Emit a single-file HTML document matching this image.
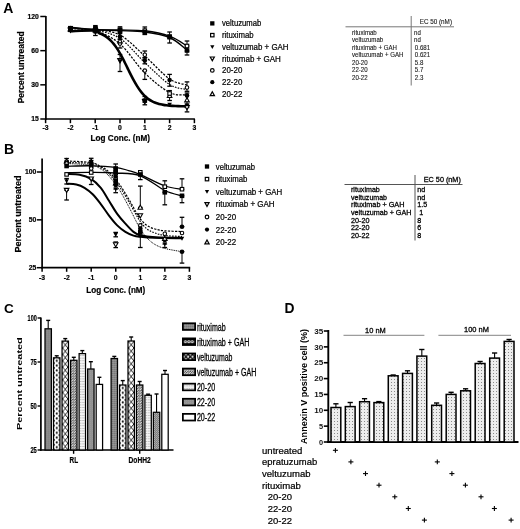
<!DOCTYPE html><html><head><meta charset="utf-8"><style>html,body{margin:0;padding:0;background:#fff;}svg{display:block;filter:blur(0.35px);}text{font-family:"Liberation Sans", sans-serif;}</style></head><body>
<svg width="520" height="529" viewBox="0 0 520 529">
<defs>
<pattern id="pDot" width="3" height="3" patternUnits="userSpaceOnUse"><rect width="3" height="3" fill="#ededed"/><rect x="1" y="1" width="1" height="1" fill="#8a8a8a"/></pattern>
<pattern id="pGray" width="2" height="2" patternUnits="userSpaceOnUse"><rect width="2" height="2" fill="#7a7a7a"/><rect width="1" height="2" fill="#999"/></pattern>
<pattern id="pCheck" width="3.4" height="3.4" patternUnits="userSpaceOnUse"><rect width="3.4" height="3.4" fill="#222"/><circle cx="1.7" cy="1.7" r="1.1" fill="#fff"/></pattern>
<pattern id="pDiam" width="6.8" height="5" patternUnits="userSpaceOnUse"><rect width="6.8" height="5" fill="#111"/><polygon points="3.4,0.6 5.6,2.5 3.4,4.4 1.2,2.5" fill="#fff"/></pattern>
<pattern id="pHatch" width="2.5" height="2.5" patternUnits="userSpaceOnUse"><rect width="2.5" height="2.5" fill="#555"/><rect x="0.5" y="0.5" width="1.2" height="1.2" fill="#ddd"/></pattern>
<pattern id="pLight" width="3" height="3" patternUnits="userSpaceOnUse"><rect width="3" height="3" fill="#f4f4f4"/><rect x="0" y="1" width="2" height="1" fill="#bbb"/></pattern>
<pattern id="pGray2" width="2" height="2" patternUnits="userSpaceOnUse"><rect width="2" height="2" fill="#8a8a8a"/><rect width="1" height="1" fill="#bbb"/></pattern>
<pattern id="pt1" x="45.62" y="329.43" width="2" height="2" patternUnits="userSpaceOnUse"><rect width="2" height="2" fill="#8c8c8c"/><rect width="1" height="1" fill="#6e6e6e"/><rect x="1" y="1" width="1" height="1" fill="#9c9c9c"/></pattern>
<pattern id="pt2" x="54.16" y="358.43" width="5.15" height="4.80" patternUnits="userSpaceOnUse"><rect width="5.15" height="4.80" fill="#000"/><circle cx="2.58" cy="2.40" r="1.90" fill="#111" stroke="#fff" stroke-width="1.6"/></pattern>
<pattern id="pt3" x="62.69" y="341.73" width="5.15" height="6.35" patternUnits="userSpaceOnUse"><rect width="5.15" height="6.35" fill="#fff"/><path d="M0,0 L5.15,6.35 M5.15,0 L0,6.35" stroke="#000" stroke-width="0.85"/></pattern>
<pattern id="pt4" x="71.22" y="360.93" width="2.4" height="2.6" patternUnits="userSpaceOnUse"><rect width="2.4" height="2.6" fill="#4a4a4a"/><path d="M-0.3,2.6 L2.1,0.2" stroke="#f4f4f4" stroke-width="1.0"/></pattern>
<pattern id="pt5" x="79.75" y="354.23" width="2.4" height="2.6" patternUnits="userSpaceOnUse"><rect width="2.4" height="2.6" fill="#f3f3f3"/><rect x="0.2" y="0.9" width="1.6" height="0.8" fill="#b0b0b0"/></pattern>
<pattern id="pt6" x="88.28" y="369.62" width="2" height="2" patternUnits="userSpaceOnUse"><rect width="2" height="2" fill="#7c7c7c"/><rect width="1" height="1" fill="#b4b4b4"/><rect x="1" y="1" width="1" height="1" fill="#a0a0a0"/></pattern>
<pattern id="pt8" x="111.72" y="359.12" width="2" height="2" patternUnits="userSpaceOnUse"><rect width="2" height="2" fill="#8c8c8c"/><rect width="1" height="1" fill="#6e6e6e"/><rect x="1" y="1" width="1" height="1" fill="#9c9c9c"/></pattern>
<pattern id="pt9" x="120.17" y="385.62" width="5.15" height="4.80" patternUnits="userSpaceOnUse"><rect width="5.15" height="4.80" fill="#000"/><circle cx="2.58" cy="2.40" r="1.90" fill="#111" stroke="#fff" stroke-width="1.6"/></pattern>
<pattern id="pt10" x="128.62" y="341.62" width="5.15" height="6.35" patternUnits="userSpaceOnUse"><rect width="5.15" height="6.35" fill="#fff"/><path d="M0,0 L5.15,6.35 M5.15,0 L0,6.35" stroke="#000" stroke-width="0.85"/></pattern>
<pattern id="pt11" x="137.07" y="385.62" width="2.4" height="2.6" patternUnits="userSpaceOnUse"><rect width="2.4" height="2.6" fill="#4a4a4a"/><path d="M-0.3,2.6 L2.1,0.2" stroke="#f4f4f4" stroke-width="1.0"/></pattern>
<pattern id="pt12" x="145.52" y="395.93" width="2.4" height="2.6" patternUnits="userSpaceOnUse"><rect width="2.4" height="2.6" fill="#f3f3f3"/><rect x="0.2" y="0.9" width="1.6" height="0.8" fill="#b0b0b0"/></pattern>
<pattern id="pt13" x="153.97" y="412.93" width="2" height="2" patternUnits="userSpaceOnUse"><rect width="2" height="2" fill="#7c7c7c"/><rect width="1" height="1" fill="#b4b4b4"/><rect x="1" y="1" width="1" height="1" fill="#a0a0a0"/></pattern>
<pattern id="pt15" x="183.75" y="324.15" width="2" height="2" patternUnits="userSpaceOnUse"><rect width="2" height="2" fill="#8c8c8c"/><rect width="1" height="1" fill="#6e6e6e"/><rect x="1" y="1" width="1" height="1" fill="#9c9c9c"/></pattern>
<pattern id="pt16" x="183.75" y="339.25" width="3.40" height="4.90" patternUnits="userSpaceOnUse"><rect width="3.40" height="4.90" fill="#000"/><circle cx="1.70" cy="2.45" r="1.10" fill="#111" stroke="#fff" stroke-width="0.9"/></pattern>
<pattern id="pt17" x="183.75" y="354.35" width="4.40" height="4.90" patternUnits="userSpaceOnUse"><rect width="4.40" height="4.90" fill="#fff"/><path d="M0,0 L4.40,4.90 M4.40,0 L0,4.90" stroke="#000" stroke-width="1.3"/></pattern>
<pattern id="pt18" x="183.75" y="369.45" width="2.4" height="2.6" patternUnits="userSpaceOnUse"><rect width="2.4" height="2.6" fill="#4a4a4a"/><path d="M-0.3,2.6 L2.1,0.2" stroke="#f4f4f4" stroke-width="1.0"/></pattern>
<pattern id="pt19" x="183.75" y="384.55" width="2.4" height="2.6" patternUnits="userSpaceOnUse"><rect width="2.4" height="2.6" fill="#f3f3f3"/><rect x="0.2" y="0.9" width="1.6" height="0.8" fill="#b0b0b0"/></pattern>
<pattern id="pt20" x="183.75" y="399.65" width="2" height="2" patternUnits="userSpaceOnUse"><rect width="2" height="2" fill="#7c7c7c"/><rect width="1" height="1" fill="#b4b4b4"/><rect x="1" y="1" width="1" height="1" fill="#a0a0a0"/></pattern>
</defs>
<text x="3.30" y="12.60" font-size="14.0" font-weight="bold" text-anchor="start" fill="#000" >A</text>
<text x="4.00" y="154.30" font-size="14.0" font-weight="bold" text-anchor="start" fill="#000" >B</text>
<text x="4.00" y="313.00" font-size="13.5" font-weight="bold" text-anchor="start" fill="#000" >C</text>
<text x="284.60" y="313.40" font-size="13.8" font-weight="bold" text-anchor="start" fill="#000" >D</text>
<line x1="45.90" y1="16.00" x2="45.90" y2="119.80" stroke="#000" stroke-width="1.7" />
<line x1="45.10" y1="119.00" x2="194.90" y2="119.00" stroke="#000" stroke-width="1.7" />
<line x1="40.30" y1="16.49" x2="45.90" y2="16.49" stroke="#000" stroke-width="1.5" />
<text x="38.80" y="18.89" font-size="6.8" font-weight="bold" text-anchor="end" fill="#000" stroke="#000" stroke-width="0.2">120</text>
<line x1="40.30" y1="50.66" x2="45.90" y2="50.66" stroke="#000" stroke-width="1.5" />
<text x="38.80" y="53.06" font-size="6.8" font-weight="bold" text-anchor="end" fill="#000" stroke="#000" stroke-width="0.2">60</text>
<line x1="40.30" y1="84.83" x2="45.90" y2="84.83" stroke="#000" stroke-width="1.5" />
<text x="38.80" y="87.23" font-size="6.8" font-weight="bold" text-anchor="end" fill="#000" stroke="#000" stroke-width="0.2">30</text>
<line x1="40.30" y1="119.00" x2="45.90" y2="119.00" stroke="#000" stroke-width="1.5" />
<text x="38.80" y="121.40" font-size="6.8" font-weight="bold" text-anchor="end" fill="#000" stroke="#000" stroke-width="0.2">15</text>
<line x1="45.60" y1="119.00" x2="45.60" y2="123.20" stroke="#000" stroke-width="1.5" />
<text x="45.60" y="129.70" font-size="6.8" font-weight="bold" text-anchor="middle" fill="#000" stroke="#000" stroke-width="0.2">-3</text>
<line x1="70.40" y1="119.00" x2="70.40" y2="123.20" stroke="#000" stroke-width="1.5" />
<text x="70.40" y="129.70" font-size="6.8" font-weight="bold" text-anchor="middle" fill="#000" stroke="#000" stroke-width="0.2">-2</text>
<line x1="95.20" y1="119.00" x2="95.20" y2="123.20" stroke="#000" stroke-width="1.5" />
<text x="95.20" y="129.70" font-size="6.8" font-weight="bold" text-anchor="middle" fill="#000" stroke="#000" stroke-width="0.2">-1</text>
<line x1="120.00" y1="119.00" x2="120.00" y2="123.20" stroke="#000" stroke-width="1.5" />
<text x="120.00" y="129.70" font-size="6.8" font-weight="bold" text-anchor="middle" fill="#000" stroke="#000" stroke-width="0.2">0</text>
<line x1="144.80" y1="119.00" x2="144.80" y2="123.20" stroke="#000" stroke-width="1.5" />
<text x="144.80" y="129.70" font-size="6.8" font-weight="bold" text-anchor="middle" fill="#000" stroke="#000" stroke-width="0.2">1</text>
<line x1="169.60" y1="119.00" x2="169.60" y2="123.20" stroke="#000" stroke-width="1.5" />
<text x="169.60" y="129.70" font-size="6.8" font-weight="bold" text-anchor="middle" fill="#000" stroke="#000" stroke-width="0.2">2</text>
<line x1="194.40" y1="119.00" x2="194.40" y2="123.20" stroke="#000" stroke-width="1.5" />
<text x="194.40" y="129.70" font-size="6.8" font-weight="bold" text-anchor="middle" fill="#000" stroke="#000" stroke-width="0.2">3</text>
<text x="90.50" y="141.40" font-size="8.2" font-weight="bold" text-anchor="start" fill="#000" textLength="59.50" lengthAdjust="spacingAndGlyphs" stroke="#000" stroke-width="0.2">Log Conc. (nM)</text>
<text x="24.20" y="67.30" font-size="8.5" font-weight="bold" text-anchor="middle" fill="#000" textLength="72.00" lengthAdjust="spacingAndGlyphs" transform="rotate(-90 24.20 67.30)" stroke="#000" stroke-width="0.2">Percent untreated</text>
<path d="M70.40,27.20 C74.53,27.57 86.93,28.93 95.20,29.40 C103.47,29.87 111.73,29.77 120.00,30.00 C128.27,30.23 136.53,29.77 144.80,30.80 C153.07,31.83 162.57,33.67 169.60,36.20 C176.63,38.73 184.10,44.37 187.00,46.00" fill="none" stroke="#000" stroke-width="1.4"/>
<path d="M70.40,27.80 C74.53,28.13 86.93,29.33 95.20,29.80 C103.47,30.27 111.73,30.23 120.00,30.60 C128.27,30.97 136.53,30.85 144.80,32.00 C153.07,33.15 162.57,34.50 169.60,37.50 C176.63,40.50 184.10,47.92 187.00,50.00" fill="none" stroke="#000" stroke-width="1.4"/>
<path d="M70.40,31.20 C74.53,31.10 90.43,30.29 95.20,30.60 C99.97,30.91 97.88,32.43 99.00,33.04 C100.12,33.65 100.96,33.79 101.93,34.26 C102.91,34.73 103.89,35.25 104.87,35.86 C105.84,36.47 106.82,37.15 107.80,37.93 C108.78,38.72 109.76,39.59 110.73,40.58 C111.71,41.57 112.69,42.66 113.67,43.88 C114.64,45.09 115.62,46.43 116.60,47.88 C117.58,49.34 118.56,50.92 119.53,52.60 C120.51,54.27 121.49,56.08 122.47,57.93 C123.44,59.79 124.42,61.75 125.40,63.72 C126.38,65.68 127.36,67.72 128.33,69.71 C129.31,71.69 130.29,73.70 131.27,75.61 C132.24,77.52 133.22,79.41 134.20,81.17 C135.18,82.93 136.16,84.61 137.13,86.17 C138.11,87.72 139.09,89.16 140.07,90.48 C141.04,91.80 142.02,93.00 143.00,94.08 C143.98,95.17 144.96,96.13 145.93,97.00 C146.91,97.87 147.89,98.63 148.87,99.31 C149.84,99.99 150.82,100.57 151.80,101.10 C152.78,101.63 153.76,102.07 154.73,102.47 C155.71,102.87 156.69,103.21 157.67,103.51 C158.64,103.81 159.62,104.06 160.60,104.29 C161.58,104.52 162.56,104.70 163.53,104.87 C164.51,105.04 165.49,105.17 166.47,105.30 C167.44,105.42 168.42,105.53 169.40,105.62 C170.38,105.71 171.36,105.78 172.33,105.85 C173.31,105.92 174.29,105.97 175.27,106.02 C176.24,106.07 177.22,106.11 178.20,106.15 C179.18,106.19 180.16,106.22 181.13,106.24 C182.11,106.27 183.09,106.29 184.07,106.31 C185.04,106.33 186.51,106.35 187.00,106.36" fill="none" stroke="#000" stroke-width="2.6"/>
<path d="M70.40,30.50 C74.53,30.42 86.93,29.25 95.20,30.00 C103.47,30.75 111.73,30.67 120.00,35.00 C128.27,39.33 136.53,48.67 144.80,56.00 C153.07,63.33 162.57,74.17 169.60,79.00 C176.63,83.83 184.10,84.00 187.00,85.00" fill="none" stroke="#000" stroke-width="1.25" stroke-dasharray="2.2 1.3"/>
<path d="M70.40,31.00 C74.53,30.92 86.93,29.25 95.20,30.50 C103.47,31.75 111.73,33.17 120.00,38.50 C128.27,43.83 136.53,54.83 144.80,62.50 C153.07,70.17 162.57,80.00 169.60,84.50 C176.63,89.00 184.10,88.67 187.00,89.50" fill="none" stroke="#000" stroke-width="1.2" stroke-dasharray="1.6 1.3"/>
<path d="M70.40,31.20 C74.53,31.17 86.93,28.87 95.20,31.00 C103.47,33.13 111.73,37.00 120.00,44.00 C128.27,51.00 136.53,64.92 144.80,73.00 C153.07,81.08 162.57,88.83 169.60,92.50 C176.63,96.17 184.10,94.58 187.00,95.00" fill="none" stroke="#000" stroke-width="1.25" stroke-dasharray="2.2 1.3"/>
<line x1="95.40" y1="25.60" x2="95.40" y2="35.50" stroke="#000" stroke-width="1.0" />
<line x1="93.10" y1="25.60" x2="97.70" y2="25.60" stroke="#000" stroke-width="1.3" />
<line x1="93.10" y1="35.50" x2="97.70" y2="35.50" stroke="#000" stroke-width="1.3" />
<line x1="120.00" y1="26.80" x2="120.00" y2="32.50" stroke="#000" stroke-width="1.0" />
<line x1="117.70" y1="26.80" x2="122.30" y2="26.80" stroke="#000" stroke-width="1.3" />
<line x1="117.70" y1="32.50" x2="122.30" y2="32.50" stroke="#000" stroke-width="1.3" />
<line x1="120.00" y1="33.50" x2="120.00" y2="39.50" stroke="#000" stroke-width="1.0" />
<line x1="117.70" y1="33.50" x2="122.30" y2="33.50" stroke="#000" stroke-width="1.3" />
<line x1="117.70" y1="39.50" x2="122.30" y2="39.50" stroke="#000" stroke-width="1.3" />
<line x1="120.00" y1="39.00" x2="120.00" y2="48.00" stroke="#000" stroke-width="1.0" />
<line x1="117.70" y1="39.00" x2="122.30" y2="39.00" stroke="#000" stroke-width="1.3" />
<line x1="117.70" y1="48.00" x2="122.30" y2="48.00" stroke="#000" stroke-width="1.3" />
<line x1="120.00" y1="54.50" x2="120.00" y2="71.50" stroke="#000" stroke-width="1.0" />
<line x1="117.70" y1="54.50" x2="122.30" y2="54.50" stroke="#000" stroke-width="1.3" />
<line x1="117.70" y1="71.50" x2="122.30" y2="71.50" stroke="#000" stroke-width="1.3" />
<line x1="144.80" y1="27.00" x2="144.80" y2="34.50" stroke="#000" stroke-width="1.0" />
<line x1="142.50" y1="27.00" x2="147.10" y2="27.00" stroke="#000" stroke-width="1.3" />
<line x1="142.50" y1="34.50" x2="147.10" y2="34.50" stroke="#000" stroke-width="1.3" />
<line x1="144.80" y1="51.00" x2="144.80" y2="58.00" stroke="#000" stroke-width="1.0" />
<line x1="142.50" y1="51.00" x2="147.10" y2="51.00" stroke="#000" stroke-width="1.3" />
<line x1="142.50" y1="58.00" x2="147.10" y2="58.00" stroke="#000" stroke-width="1.3" />
<line x1="144.80" y1="57.50" x2="144.80" y2="63.80" stroke="#000" stroke-width="1.0" />
<line x1="142.50" y1="57.50" x2="147.10" y2="57.50" stroke="#000" stroke-width="1.3" />
<line x1="142.50" y1="63.80" x2="147.10" y2="63.80" stroke="#000" stroke-width="1.3" />
<line x1="144.80" y1="70.60" x2="144.80" y2="79.40" stroke="#000" stroke-width="1.0" />
<line x1="142.50" y1="70.60" x2="147.10" y2="70.60" stroke="#000" stroke-width="1.3" />
<line x1="142.50" y1="79.40" x2="147.10" y2="79.40" stroke="#000" stroke-width="1.3" />
<line x1="144.80" y1="96.50" x2="144.80" y2="104.80" stroke="#000" stroke-width="1.0" />
<line x1="142.50" y1="96.50" x2="147.10" y2="96.50" stroke="#000" stroke-width="1.3" />
<line x1="142.50" y1="104.80" x2="147.10" y2="104.80" stroke="#000" stroke-width="1.3" />
<line x1="169.60" y1="32.00" x2="169.60" y2="43.00" stroke="#000" stroke-width="1.0" />
<line x1="167.30" y1="32.00" x2="171.90" y2="32.00" stroke="#000" stroke-width="1.3" />
<line x1="167.30" y1="43.00" x2="171.90" y2="43.00" stroke="#000" stroke-width="1.3" />
<line x1="169.60" y1="74.40" x2="169.60" y2="86.20" stroke="#000" stroke-width="1.0" />
<line x1="167.30" y1="74.40" x2="171.90" y2="74.40" stroke="#000" stroke-width="1.3" />
<line x1="167.30" y1="86.20" x2="171.90" y2="86.20" stroke="#000" stroke-width="1.3" />
<line x1="169.60" y1="90.60" x2="169.60" y2="100.50" stroke="#000" stroke-width="1.0" />
<line x1="167.30" y1="90.60" x2="171.90" y2="90.60" stroke="#000" stroke-width="1.3" />
<line x1="167.30" y1="100.50" x2="171.90" y2="100.50" stroke="#000" stroke-width="1.3" />
<line x1="187.00" y1="41.00" x2="187.00" y2="51.00" stroke="#000" stroke-width="1.0" />
<line x1="184.70" y1="41.00" x2="189.30" y2="41.00" stroke="#000" stroke-width="1.3" />
<line x1="184.70" y1="51.00" x2="189.30" y2="51.00" stroke="#000" stroke-width="1.3" />
<line x1="187.00" y1="46.00" x2="187.00" y2="55.00" stroke="#000" stroke-width="1.0" />
<line x1="184.70" y1="46.00" x2="189.30" y2="46.00" stroke="#000" stroke-width="1.3" />
<line x1="184.70" y1="55.00" x2="189.30" y2="55.00" stroke="#000" stroke-width="1.3" />
<line x1="187.00" y1="81.90" x2="187.00" y2="91.30" stroke="#000" stroke-width="1.0" />
<line x1="184.70" y1="81.90" x2="189.30" y2="81.90" stroke="#000" stroke-width="1.3" />
<line x1="184.70" y1="91.30" x2="189.30" y2="91.30" stroke="#000" stroke-width="1.3" />
<line x1="187.00" y1="93.00" x2="187.00" y2="104.00" stroke="#000" stroke-width="1.0" />
<line x1="184.70" y1="93.00" x2="189.30" y2="93.00" stroke="#000" stroke-width="1.3" />
<line x1="184.70" y1="104.00" x2="189.30" y2="104.00" stroke="#000" stroke-width="1.3" />
<line x1="187.00" y1="107.50" x2="187.00" y2="111.90" stroke="#000" stroke-width="1.0" />
<line x1="184.70" y1="107.50" x2="189.30" y2="107.50" stroke="#000" stroke-width="1.3" />
<line x1="184.70" y1="111.90" x2="189.30" y2="111.90" stroke="#000" stroke-width="1.3" />
<polygon points="68.10,30.84 72.70,30.84 70.40,26.70" fill="#fff" stroke="#000" stroke-width="1.1"/>
<circle cx="70.40" cy="29.00" r="1.75" fill="#fff" stroke="#000" stroke-width="1.1"/>
<polygon points="68.10,28.16 72.70,28.16 70.40,32.30" fill="#fff" stroke="#000" stroke-width="1.1"/>
<rect x="68.65" y="26.75" width="3.50" height="3.50" fill="#fff" stroke="#000" stroke-width="1.1"/>
<circle cx="70.40" cy="29.50" r="2.30" fill="#000"/>
<polygon points="68.10,28.66 72.70,28.66 70.40,32.80" fill="#000"/>
<rect x="68.10" y="25.90" width="4.60" height="4.60" fill="#000"/>
<rect x="68.10" y="27.50" width="4.60" height="4.60" fill="#000"/>
<polygon points="93.10,31.84 97.70,31.84 95.40,27.70" fill="#fff" stroke="#000" stroke-width="1.1"/>
<circle cx="95.40" cy="29.80" r="1.75" fill="#fff" stroke="#000" stroke-width="1.1"/>
<polygon points="93.10,29.16 97.70,29.16 95.40,33.30" fill="#fff" stroke="#000" stroke-width="1.1"/>
<rect x="93.65" y="27.75" width="3.50" height="3.50" fill="#fff" stroke="#000" stroke-width="1.1"/>
<circle cx="95.40" cy="30.50" r="2.30" fill="#000"/>
<polygon points="93.10,30.16 97.70,30.16 95.40,34.30" fill="#000"/>
<rect x="93.10" y="26.00" width="4.60" height="4.60" fill="#000"/>
<rect x="93.10" y="28.00" width="4.60" height="4.60" fill="#000"/>
<rect x="118.25" y="27.85" width="3.50" height="3.50" fill="#fff" stroke="#000" stroke-width="1.1"/>
<rect x="117.70" y="27.90" width="4.60" height="4.60" fill="#000"/>
<circle cx="120.00" cy="36.60" r="2.30" fill="#000"/>
<circle cx="120.00" cy="43.50" r="1.75" fill="#fff" stroke="#000" stroke-width="1.1"/>
<polygon points="117.70,42.84 122.30,42.84 120.00,38.70" fill="#fff" stroke="#000" stroke-width="1.1"/>
<polygon points="117.70,58.66 122.30,58.66 120.00,62.80" fill="#fff" stroke="#000" stroke-width="1.1"/>
<polygon points="117.70,59.36 122.30,59.36 120.00,63.50" fill="#000"/>
<rect x="143.05" y="28.85" width="3.50" height="3.50" fill="#fff" stroke="#000" stroke-width="1.1"/>
<rect x="142.50" y="29.70" width="4.60" height="4.60" fill="#000"/>
<circle cx="144.80" cy="54.80" r="1.75" fill="#fff" stroke="#000" stroke-width="1.1"/>
<circle cx="144.80" cy="60.60" r="2.30" fill="#000"/>
<circle cx="144.80" cy="70.60" r="1.75" fill="#fff" stroke="#000" stroke-width="1.1"/>
<polygon points="142.50,99.66 147.10,99.66 144.80,103.80" fill="#fff" stroke="#000" stroke-width="1.1"/>
<rect x="142.50" y="98.30" width="4.60" height="4.60" fill="#000"/>
<rect x="167.85" y="34.75" width="3.50" height="3.50" fill="#fff" stroke="#000" stroke-width="1.1"/>
<rect x="167.30" y="34.90" width="4.60" height="4.60" fill="#000"/>
<circle cx="169.60" cy="80.00" r="2.30" fill="#000"/>
<polygon points="167.30,97.44 171.90,97.44 169.60,93.30" fill="#fff" stroke="#000" stroke-width="1.1"/>
<rect x="167.85" y="91.75" width="3.50" height="3.50" fill="#fff" stroke="#000" stroke-width="1.1"/>
<polygon points="167.30,102.66 171.90,102.66 169.60,106.80" fill="#000"/>
<rect x="185.25" y="44.25" width="3.50" height="3.50" fill="#fff" stroke="#000" stroke-width="1.1"/>
<rect x="184.70" y="48.20" width="4.60" height="4.60" fill="#000"/>
<circle cx="187.00" cy="87.50" r="1.75" fill="#fff" stroke="#000" stroke-width="1.1"/>
<circle cx="187.00" cy="95.60" r="2.30" fill="#000"/>
<polygon points="184.70,101.84 189.30,101.84 187.00,97.70" fill="#fff" stroke="#000" stroke-width="1.1"/>
<polygon points="184.70,103.66 189.30,103.66 187.00,107.80" fill="#000"/>
<polygon points="184.70,105.66 189.30,105.66 187.00,109.80" fill="#fff" stroke="#000" stroke-width="1.1"/>
<rect x="68.2" y="26.0" width="4.8" height="5.8" fill="#000"/>
<rect x="93.5" y="26.6" width="4.2" height="7.0" fill="#000"/>
<rect x="210.15" y="21.25" width="4.30" height="4.30" fill="#000"/>
<text x="222.00" y="26.40" font-size="8.4" font-weight="normal" text-anchor="start" fill="#000" textLength="39.20" lengthAdjust="spacingAndGlyphs" stroke="#000" stroke-width="0.22">veltuzumab</text>
<rect x="210.60" y="33.45" width="3.40" height="3.40" fill="#fff" stroke="#000" stroke-width="1.2"/>
<text x="222.00" y="38.15" font-size="8.4" font-weight="normal" text-anchor="start" fill="#000" textLength="31.60" lengthAdjust="spacingAndGlyphs" stroke="#000" stroke-width="0.22">rituximab</text>
<polygon points="210.20,45.22 214.40,45.22 212.30,49.00" fill="#000"/>
<text x="222.00" y="49.90" font-size="8.4" font-weight="normal" text-anchor="start" fill="#000" textLength="66.50" lengthAdjust="spacingAndGlyphs" stroke="#000" stroke-width="0.22">veltuzumab + GAH</text>
<polygon points="210.25,57.01 214.35,57.01 212.30,60.70" fill="#fff" stroke="#000" stroke-width="1.2"/>
<text x="222.00" y="61.65" font-size="8.4" font-weight="normal" text-anchor="start" fill="#000" textLength="58.80" lengthAdjust="spacingAndGlyphs" stroke="#000" stroke-width="0.22">rituximab + GAH</text>
<circle cx="212.30" cy="70.40" r="1.80" fill="#fff" stroke="#000" stroke-width="1.2"/>
<text x="222.00" y="73.40" font-size="8.4" font-weight="normal" text-anchor="start" fill="#000" textLength="20.30" lengthAdjust="spacingAndGlyphs" stroke="#000" stroke-width="0.22">20-20</text>
<circle cx="212.30" cy="82.15" r="2.10" fill="#000"/>
<text x="222.00" y="85.15" font-size="8.4" font-weight="normal" text-anchor="start" fill="#000" textLength="20.30" lengthAdjust="spacingAndGlyphs" stroke="#000" stroke-width="0.22">22-20</text>
<polygon points="210.15,95.62 214.45,95.62 212.30,91.75" fill="#fff" stroke="#000" stroke-width="1.2"/>
<text x="222.00" y="96.90" font-size="8.4" font-weight="normal" text-anchor="start" fill="#000" textLength="20.30" lengthAdjust="spacingAndGlyphs" stroke="#000" stroke-width="0.22">20-22</text>
<line x1="411.20" y1="16.00" x2="411.20" y2="85.50" stroke="#777" stroke-width="1.0" />
<line x1="345.50" y1="26.80" x2="454.00" y2="26.80" stroke="#777" stroke-width="1.0" />
<text x="419.70" y="23.80" font-size="6.6" font-weight="normal" text-anchor="start" fill="#222" textLength="32.30" lengthAdjust="spacingAndGlyphs" stroke="#222" stroke-width="0.12">EC 50 (nM)</text>
<text x="352.00" y="34.50" font-size="6.45" font-weight="normal" text-anchor="start" fill="#222" textLength="24.75" lengthAdjust="spacingAndGlyphs" stroke="#222" stroke-width="0.12">rituximab</text>
<text x="414.00" y="34.50" font-size="6.45" font-weight="normal" text-anchor="start" fill="#222" textLength="6.79" lengthAdjust="spacingAndGlyphs" stroke="#222" stroke-width="0.12">nd</text>
<text x="352.00" y="42.02" font-size="6.45" font-weight="normal" text-anchor="start" fill="#222" textLength="31.19" lengthAdjust="spacingAndGlyphs" stroke="#222" stroke-width="0.12">veltuzumab</text>
<text x="414.00" y="42.02" font-size="6.45" font-weight="normal" text-anchor="start" fill="#222" textLength="6.79" lengthAdjust="spacingAndGlyphs" stroke="#222" stroke-width="0.12">nd</text>
<text x="352.00" y="49.54" font-size="6.45" font-weight="normal" text-anchor="start" fill="#222" textLength="44.92" lengthAdjust="spacingAndGlyphs" stroke="#222" stroke-width="0.12">rituximab + GAH</text>
<text x="414.80" y="49.54" font-size="6.45" font-weight="normal" text-anchor="start" fill="#222" textLength="15.26" lengthAdjust="spacingAndGlyphs" stroke="#222" stroke-width="0.12">0.681</text>
<text x="352.00" y="57.06" font-size="6.45" font-weight="normal" text-anchor="start" fill="#222" textLength="51.36" lengthAdjust="spacingAndGlyphs" stroke="#222" stroke-width="0.12">veltuzumab + GAH</text>
<text x="414.80" y="57.06" font-size="6.45" font-weight="normal" text-anchor="start" fill="#222" textLength="15.26" lengthAdjust="spacingAndGlyphs" stroke="#222" stroke-width="0.12">0.621</text>
<text x="352.00" y="64.58" font-size="6.45" font-weight="normal" text-anchor="start" fill="#222" textLength="15.60" lengthAdjust="spacingAndGlyphs" stroke="#222" stroke-width="0.12">20-20</text>
<text x="414.80" y="64.58" font-size="6.45" font-weight="normal" text-anchor="start" fill="#222" textLength="8.48" lengthAdjust="spacingAndGlyphs" stroke="#222" stroke-width="0.12">5.8</text>
<text x="352.00" y="72.10" font-size="6.45" font-weight="normal" text-anchor="start" fill="#222" textLength="15.60" lengthAdjust="spacingAndGlyphs" stroke="#222" stroke-width="0.12">22-20</text>
<text x="414.80" y="72.10" font-size="6.45" font-weight="normal" text-anchor="start" fill="#222" textLength="8.48" lengthAdjust="spacingAndGlyphs" stroke="#222" stroke-width="0.12">5.7</text>
<text x="352.00" y="79.62" font-size="6.45" font-weight="normal" text-anchor="start" fill="#222" textLength="15.60" lengthAdjust="spacingAndGlyphs" stroke="#222" stroke-width="0.12">20-22</text>
<text x="414.80" y="79.62" font-size="6.45" font-weight="normal" text-anchor="start" fill="#222" textLength="8.48" lengthAdjust="spacingAndGlyphs" stroke="#222" stroke-width="0.12">2.3</text>
<line x1="42.10" y1="158.40" x2="42.10" y2="268.50" stroke="#000" stroke-width="1.7" />
<line x1="41.30" y1="267.70" x2="190.20" y2="267.70" stroke="#000" stroke-width="1.7" />
<line x1="36.80" y1="172.00" x2="42.10" y2="172.00" stroke="#000" stroke-width="1.5" />
<text x="36.40" y="174.40" font-size="6.8" font-weight="bold" text-anchor="end" fill="#000" stroke="#000" stroke-width="0.2">100</text>
<line x1="36.80" y1="219.85" x2="42.10" y2="219.85" stroke="#000" stroke-width="1.5" />
<text x="36.40" y="222.25" font-size="6.8" font-weight="bold" text-anchor="end" fill="#000" stroke="#000" stroke-width="0.2">50</text>
<line x1="36.80" y1="267.70" x2="42.10" y2="267.70" stroke="#000" stroke-width="1.5" />
<text x="36.40" y="270.10" font-size="6.8" font-weight="bold" text-anchor="end" fill="#000" stroke="#000" stroke-width="0.2">25</text>
<line x1="42.10" y1="267.70" x2="42.10" y2="271.80" stroke="#000" stroke-width="1.5" />
<text x="42.10" y="279.70" font-size="6.8" font-weight="bold" text-anchor="middle" fill="#000" stroke="#000" stroke-width="0.2">-3</text>
<line x1="66.65" y1="267.70" x2="66.65" y2="271.80" stroke="#000" stroke-width="1.5" />
<text x="66.65" y="279.70" font-size="6.8" font-weight="bold" text-anchor="middle" fill="#000" stroke="#000" stroke-width="0.2">-2</text>
<line x1="91.20" y1="267.70" x2="91.20" y2="271.80" stroke="#000" stroke-width="1.5" />
<text x="91.20" y="279.70" font-size="6.8" font-weight="bold" text-anchor="middle" fill="#000" stroke="#000" stroke-width="0.2">-1</text>
<line x1="115.75" y1="267.70" x2="115.75" y2="271.80" stroke="#000" stroke-width="1.5" />
<text x="115.75" y="279.70" font-size="6.8" font-weight="bold" text-anchor="middle" fill="#000" stroke="#000" stroke-width="0.2">0</text>
<line x1="140.30" y1="267.70" x2="140.30" y2="271.80" stroke="#000" stroke-width="1.5" />
<text x="140.30" y="279.70" font-size="6.8" font-weight="bold" text-anchor="middle" fill="#000" stroke="#000" stroke-width="0.2">1</text>
<line x1="164.85" y1="267.70" x2="164.85" y2="271.80" stroke="#000" stroke-width="1.5" />
<text x="164.85" y="279.70" font-size="6.8" font-weight="bold" text-anchor="middle" fill="#000" stroke="#000" stroke-width="0.2">2</text>
<line x1="189.40" y1="267.70" x2="189.40" y2="271.80" stroke="#000" stroke-width="1.5" />
<text x="189.40" y="279.70" font-size="6.8" font-weight="bold" text-anchor="middle" fill="#000" stroke="#000" stroke-width="0.2">3</text>
<text x="86.30" y="292.60" font-size="8.2" font-weight="bold" text-anchor="start" fill="#000" textLength="59.00" lengthAdjust="spacingAndGlyphs" stroke="#000" stroke-width="0.2">Log Conc. (nM)</text>
<text x="20.90" y="214.00" font-size="9.0" font-weight="bold" text-anchor="middle" fill="#000" textLength="77.00" lengthAdjust="spacingAndGlyphs" transform="rotate(-90 20.90 214.00)" stroke="#000" stroke-width="0.2">Percent untreated</text>
<path d="M66.60,166.30 C70.70,166.22 83.02,165.62 91.20,165.80 C99.38,165.98 109.47,166.60 115.70,167.40 C121.93,168.20 124.50,169.40 128.60,170.60 C132.70,171.80 134.27,172.03 140.30,174.60 C146.33,177.17 157.85,183.57 164.80,186.00 C171.75,188.43 179.13,188.67 182.00,189.20" fill="none" stroke="#000" stroke-width="1.3"/>
<path d="M66.60,172.60 C70.70,172.57 83.02,172.33 91.20,172.40 C99.38,172.47 107.52,172.43 115.70,173.00 C123.88,173.57 132.12,172.88 140.30,175.80 C148.48,178.72 157.85,187.17 164.80,190.50 C171.75,193.83 179.13,194.92 182.00,195.80" fill="none" stroke="#000" stroke-width="1.3"/>
<path d="M66.60,173.90 C68.77,174.03 75.53,173.88 79.60,174.70 C83.67,175.52 87.47,176.62 91.00,178.80 C94.53,180.98 97.80,184.13 100.80,187.80 C103.80,191.47 106.27,196.45 109.00,200.80 C111.73,205.15 114.47,210.08 117.20,213.90 C119.93,217.72 122.68,220.70 125.40,223.70 C128.12,226.70 131.02,229.98 133.50,231.90 C135.98,233.82 136.72,234.30 140.30,235.20 C143.88,236.10 148.05,236.87 155.00,237.30 C161.95,237.73 177.50,237.72 182.00,237.80" fill="none" stroke="#000" stroke-width="2.0"/>
<path d="M66.60,183.70 C68.22,183.83 73.32,183.82 76.30,184.50 C79.28,185.18 81.77,186.17 84.50,187.80 C87.23,189.43 89.98,191.58 92.70,194.30 C95.42,197.02 98.08,200.55 100.80,204.10 C103.52,207.65 106.27,212.05 109.00,215.60 C111.73,219.15 114.47,222.68 117.20,225.40 C119.93,228.12 122.68,230.20 125.40,231.90 C128.12,233.60 131.02,234.78 133.50,235.60 C135.98,236.42 136.72,236.43 140.30,236.80 C143.88,237.17 148.05,237.57 155.00,237.80 C161.95,238.03 177.50,238.13 182.00,238.20" fill="none" stroke="#000" stroke-width="2.0"/>
<path d="M66.60,161.00 C70.70,161.25 85.63,161.67 91.20,162.50 C96.77,163.33 97.53,164.83 100.00,166.00 C102.47,167.17 104.17,168.17 106.00,169.50 C107.83,170.83 109.33,172.33 111.00,174.00 C112.67,175.67 114.33,177.42 116.00,179.50 C117.67,181.58 119.33,184.00 121.00,186.50 C122.67,189.00 124.33,191.75 126.00,194.50 C127.67,197.25 129.33,200.08 131.00,203.00 C132.67,205.92 134.45,209.33 136.00,212.00 C137.55,214.67 138.47,216.75 140.30,219.00 C142.13,221.25 144.55,223.83 147.00,225.50 C149.45,227.17 152.00,228.12 155.00,229.00 C158.00,229.88 160.50,230.37 165.00,230.80 C169.50,231.23 179.17,231.47 182.00,231.60" fill="none" stroke="#000" stroke-width="1.2" stroke-dasharray="2.2 1.3"/>
<path d="M66.60,162.50 C70.70,162.67 85.63,162.75 91.20,163.50 C96.77,164.25 97.53,165.75 100.00,167.00 C102.47,168.25 104.17,169.50 106.00,171.00 C107.83,172.50 109.33,174.17 111.00,176.00 C112.67,177.83 114.33,179.83 116.00,182.00 C117.67,184.17 119.33,186.50 121.00,189.00 C122.67,191.50 124.33,194.25 126.00,197.00 C127.67,199.75 129.33,202.58 131.00,205.50 C132.67,208.42 134.45,211.83 136.00,214.50 C137.55,217.17 138.47,219.08 140.30,221.50 C142.13,223.92 144.55,227.08 147.00,229.00 C149.45,230.92 152.00,231.92 155.00,233.00 C158.00,234.08 160.50,234.92 165.00,235.50 C169.50,236.08 179.17,236.33 182.00,236.50" fill="none" stroke="#000" stroke-width="1.2" stroke-dasharray="1.6 1.3"/>
<path d="M66.60,163.50 C70.70,163.75 85.63,164.17 91.20,165.00 C96.77,165.83 97.53,167.17 100.00,168.50 C102.47,169.83 104.17,171.33 106.00,173.00 C107.83,174.67 109.33,176.50 111.00,178.50 C112.67,180.50 114.33,182.67 116.00,185.00 C117.67,187.33 119.33,189.75 121.00,192.50 C122.67,195.25 124.33,198.42 126.00,201.50 C127.67,204.58 129.33,207.75 131.00,211.00 C132.67,214.25 134.45,218.00 136.00,221.00 C137.55,224.00 138.47,226.17 140.30,229.00 C142.13,231.83 144.55,235.42 147.00,238.00 C149.45,240.58 152.00,242.75 155.00,244.50 C158.00,246.25 160.50,247.30 165.00,248.50 C169.50,249.70 179.17,251.17 182.00,251.70" fill="none" stroke="#000" stroke-width="1.0" stroke-dasharray="1.0 0.8"/>
<line x1="66.60" y1="158.50" x2="66.60" y2="161.00" stroke="#000" stroke-width="1.0" />
<line x1="64.30" y1="158.50" x2="68.90" y2="158.50" stroke="#000" stroke-width="1.3" />
<line x1="64.30" y1="161.00" x2="68.90" y2="161.00" stroke="#000" stroke-width="1.3" />
<line x1="66.60" y1="178.50" x2="66.60" y2="184.00" stroke="#000" stroke-width="1.0" />
<line x1="64.30" y1="178.50" x2="68.90" y2="178.50" stroke="#000" stroke-width="1.3" />
<line x1="64.30" y1="184.00" x2="68.90" y2="184.00" stroke="#000" stroke-width="1.3" />
<line x1="66.60" y1="190.20" x2="66.60" y2="200.00" stroke="#000" stroke-width="1.0" />
<line x1="64.30" y1="190.20" x2="68.90" y2="190.20" stroke="#000" stroke-width="1.3" />
<line x1="64.30" y1="200.00" x2="68.90" y2="200.00" stroke="#000" stroke-width="1.3" />
<line x1="91.20" y1="158.30" x2="91.20" y2="160.50" stroke="#000" stroke-width="1.0" />
<line x1="88.90" y1="158.30" x2="93.50" y2="158.30" stroke="#000" stroke-width="1.3" />
<line x1="88.90" y1="160.50" x2="93.50" y2="160.50" stroke="#000" stroke-width="1.3" />
<line x1="91.20" y1="178.80" x2="91.20" y2="184.50" stroke="#000" stroke-width="1.0" />
<line x1="88.90" y1="178.80" x2="93.50" y2="178.80" stroke="#000" stroke-width="1.3" />
<line x1="88.90" y1="184.50" x2="93.50" y2="184.50" stroke="#000" stroke-width="1.3" />
<line x1="115.70" y1="164.00" x2="115.70" y2="168.50" stroke="#000" stroke-width="1.0" />
<line x1="113.40" y1="164.00" x2="118.00" y2="164.00" stroke="#000" stroke-width="1.3" />
<line x1="113.40" y1="168.50" x2="118.00" y2="168.50" stroke="#000" stroke-width="1.3" />
<line x1="115.70" y1="189.00" x2="115.70" y2="192.70" stroke="#000" stroke-width="1.0" />
<line x1="113.40" y1="189.00" x2="118.00" y2="189.00" stroke="#000" stroke-width="1.3" />
<line x1="113.40" y1="192.70" x2="118.00" y2="192.70" stroke="#000" stroke-width="1.3" />
<line x1="115.70" y1="232.40" x2="115.70" y2="236.80" stroke="#000" stroke-width="1.0" />
<line x1="113.40" y1="232.40" x2="118.00" y2="232.40" stroke="#000" stroke-width="1.3" />
<line x1="113.40" y1="236.80" x2="118.00" y2="236.80" stroke="#000" stroke-width="1.3" />
<line x1="115.70" y1="242.00" x2="115.70" y2="247.60" stroke="#000" stroke-width="1.0" />
<line x1="113.40" y1="242.00" x2="118.00" y2="242.00" stroke="#000" stroke-width="1.3" />
<line x1="113.40" y1="247.60" x2="118.00" y2="247.60" stroke="#000" stroke-width="1.3" />
<line x1="140.30" y1="174.50" x2="140.30" y2="179.60" stroke="#000" stroke-width="1.0" />
<line x1="138.00" y1="174.50" x2="142.60" y2="174.50" stroke="#000" stroke-width="1.3" />
<line x1="138.00" y1="179.60" x2="142.60" y2="179.60" stroke="#000" stroke-width="1.3" />
<line x1="140.30" y1="186.10" x2="140.30" y2="207.40" stroke="#000" stroke-width="1.0" />
<line x1="138.00" y1="186.10" x2="142.60" y2="186.10" stroke="#000" stroke-width="1.3" />
<line x1="138.00" y1="207.40" x2="142.60" y2="207.40" stroke="#000" stroke-width="1.3" />
<line x1="140.30" y1="236.00" x2="140.30" y2="247.50" stroke="#000" stroke-width="1.0" />
<line x1="138.00" y1="236.00" x2="142.60" y2="236.00" stroke="#000" stroke-width="1.3" />
<line x1="138.00" y1="247.50" x2="142.60" y2="247.50" stroke="#000" stroke-width="1.3" />
<line x1="164.80" y1="180.80" x2="164.80" y2="186.70" stroke="#000" stroke-width="1.0" />
<line x1="162.50" y1="180.80" x2="167.10" y2="180.80" stroke="#000" stroke-width="1.3" />
<line x1="162.50" y1="186.70" x2="167.10" y2="186.70" stroke="#000" stroke-width="1.3" />
<line x1="164.80" y1="192.30" x2="164.80" y2="204.80" stroke="#000" stroke-width="1.0" />
<line x1="162.50" y1="192.30" x2="167.10" y2="192.30" stroke="#000" stroke-width="1.3" />
<line x1="162.50" y1="204.80" x2="167.10" y2="204.80" stroke="#000" stroke-width="1.3" />
<line x1="164.80" y1="244.00" x2="164.80" y2="247.50" stroke="#000" stroke-width="1.0" />
<line x1="162.50" y1="244.00" x2="167.10" y2="244.00" stroke="#000" stroke-width="1.3" />
<line x1="162.50" y1="247.50" x2="167.10" y2="247.50" stroke="#000" stroke-width="1.3" />
<line x1="182.00" y1="178.80" x2="182.00" y2="189.20" stroke="#000" stroke-width="1.0" />
<line x1="179.70" y1="178.80" x2="184.30" y2="178.80" stroke="#000" stroke-width="1.3" />
<line x1="179.70" y1="189.20" x2="184.30" y2="189.20" stroke="#000" stroke-width="1.3" />
<line x1="182.00" y1="195.80" x2="182.00" y2="202.70" stroke="#000" stroke-width="1.0" />
<line x1="179.70" y1="195.80" x2="184.30" y2="195.80" stroke="#000" stroke-width="1.3" />
<line x1="179.70" y1="202.70" x2="184.30" y2="202.70" stroke="#000" stroke-width="1.3" />
<line x1="182.00" y1="217.30" x2="182.00" y2="226.70" stroke="#000" stroke-width="1.0" />
<line x1="179.70" y1="217.30" x2="184.30" y2="217.30" stroke="#000" stroke-width="1.3" />
<line x1="179.70" y1="226.70" x2="184.30" y2="226.70" stroke="#000" stroke-width="1.3" />
<line x1="182.00" y1="251.70" x2="182.00" y2="263.10" stroke="#000" stroke-width="1.0" />
<line x1="179.70" y1="251.70" x2="184.30" y2="251.70" stroke="#000" stroke-width="1.3" />
<line x1="179.70" y1="263.10" x2="184.30" y2="263.10" stroke="#000" stroke-width="1.3" />
<polygon points="64.30,162.84 68.90,162.84 66.60,158.70" fill="#fff" stroke="#000" stroke-width="1.1"/>
<circle cx="66.60" cy="162.50" r="2.30" fill="#000"/>
<circle cx="66.60" cy="163.50" r="1.75" fill="#fff" stroke="#000" stroke-width="1.1"/>
<rect x="64.30" y="163.70" width="4.60" height="4.60" fill="#000"/>
<rect x="64.85" y="172.65" width="3.50" height="3.50" fill="#fff" stroke="#000" stroke-width="1.1"/>
<polygon points="64.30,179.16 68.90,179.16 66.60,183.30" fill="#000"/>
<polygon points="64.30,188.36 68.90,188.36 66.60,192.50" fill="#fff" stroke="#000" stroke-width="1.1"/>
<polygon points="88.90,162.34 93.50,162.34 91.20,158.20" fill="#000"/>
<circle cx="91.20" cy="163.00" r="2.30" fill="#000"/>
<rect x="88.90" y="163.70" width="4.60" height="4.60" fill="#000"/>
<circle cx="91.20" cy="168.50" r="1.75" fill="#fff" stroke="#000" stroke-width="1.1"/>
<rect x="89.45" y="170.75" width="3.50" height="3.50" fill="#fff" stroke="#000" stroke-width="1.1"/>
<polygon points="88.90,176.96 93.50,176.96 91.20,181.10" fill="#fff" stroke="#000" stroke-width="1.1"/>
<rect x="113.95" y="171.25" width="3.50" height="3.50" fill="#fff" stroke="#000" stroke-width="1.1"/>
<circle cx="115.70" cy="178.50" r="1.75" fill="#fff" stroke="#000" stroke-width="1.1"/>
<polygon points="113.40,184.84 118.00,184.84 115.70,180.70" fill="#fff" stroke="#000" stroke-width="1.1"/>
<rect x="113.40" y="166.20" width="4.60" height="4.60" fill="#000"/>
<rect x="113.40" y="169.70" width="4.60" height="4.60" fill="#000"/>
<circle cx="115.70" cy="176.50" r="2.30" fill="#000"/>
<rect x="113.40" y="178.70" width="4.60" height="4.60" fill="#000"/>
<circle cx="115.70" cy="185.00" r="2.30" fill="#000"/>
<polygon points="113.40,187.16 118.00,187.16 115.70,191.30" fill="#000"/>
<polygon points="113.40,232.76 118.00,232.76 115.70,236.90" fill="#000"/>
<polygon points="113.40,242.76 118.00,242.76 115.70,246.90" fill="#fff" stroke="#000" stroke-width="1.1"/>
<rect x="138.55" y="170.55" width="3.50" height="3.50" fill="#fff" stroke="#000" stroke-width="1.1"/>
<rect x="138.00" y="172.20" width="4.60" height="4.60" fill="#000"/>
<polygon points="138.00,209.24 142.60,209.24 140.30,205.10" fill="#fff" stroke="#000" stroke-width="1.1"/>
<polygon points="138.00,213.76 142.60,213.76 140.30,217.90" fill="#fff" stroke="#000" stroke-width="1.1"/>
<circle cx="140.30" cy="225.40" r="1.75" fill="#fff" stroke="#000" stroke-width="1.1"/>
<circle cx="140.30" cy="228.50" r="2.30" fill="#000"/>
<rect x="138.00" y="229.70" width="4.60" height="4.60" fill="#000"/>
<polygon points="138.00,234.16 142.60,234.16 140.30,238.30" fill="#000"/>
<rect x="163.05" y="184.95" width="3.50" height="3.50" fill="#fff" stroke="#000" stroke-width="1.1"/>
<rect x="162.50" y="190.00" width="4.60" height="4.60" fill="#000"/>
<circle cx="164.80" cy="233.80" r="1.75" fill="#fff" stroke="#000" stroke-width="1.1"/>
<circle cx="164.80" cy="240.00" r="2.30" fill="#000"/>
<polygon points="162.50,242.16 167.10,242.16 164.80,246.30" fill="#000"/>
<polygon points="162.50,240.34 167.10,240.34 164.80,236.20" fill="#fff" stroke="#000" stroke-width="1.1"/>
<rect x="180.25" y="187.45" width="3.50" height="3.50" fill="#fff" stroke="#000" stroke-width="1.1"/>
<rect x="179.70" y="193.50" width="4.60" height="4.60" fill="#000"/>
<circle cx="182.00" cy="226.70" r="2.30" fill="#000"/>
<circle cx="182.00" cy="233.00" r="1.75" fill="#fff" stroke="#000" stroke-width="1.1"/>
<polygon points="179.70,236.66 184.30,236.66 182.00,240.80" fill="#000"/>
<circle cx="182.00" cy="251.70" r="2.30" fill="#000"/>
<rect x="204.85" y="164.35" width="4.30" height="4.30" fill="#000"/>
<text x="215.80" y="169.50" font-size="8.4" font-weight="normal" text-anchor="start" fill="#000" textLength="39.20" lengthAdjust="spacingAndGlyphs" stroke="#000" stroke-width="0.22">veltuzumab</text>
<rect x="205.30" y="177.42" width="3.40" height="3.40" fill="#fff" stroke="#000" stroke-width="1.2"/>
<text x="215.80" y="182.12" font-size="8.4" font-weight="normal" text-anchor="start" fill="#000" textLength="31.60" lengthAdjust="spacingAndGlyphs" stroke="#000" stroke-width="0.22">rituximab</text>
<polygon points="204.90,190.06 209.10,190.06 207.00,193.84" fill="#000"/>
<text x="215.80" y="194.74" font-size="8.4" font-weight="normal" text-anchor="start" fill="#000" textLength="66.50" lengthAdjust="spacingAndGlyphs" stroke="#000" stroke-width="0.22">veltuzumab + GAH</text>
<polygon points="204.95,202.72 209.05,202.72 207.00,206.41" fill="#fff" stroke="#000" stroke-width="1.2"/>
<text x="215.80" y="207.36" font-size="8.4" font-weight="normal" text-anchor="start" fill="#000" textLength="58.80" lengthAdjust="spacingAndGlyphs" stroke="#000" stroke-width="0.22">rituximab + GAH</text>
<circle cx="207.00" cy="216.98" r="1.80" fill="#fff" stroke="#000" stroke-width="1.2"/>
<text x="215.80" y="219.98" font-size="8.4" font-weight="normal" text-anchor="start" fill="#000" textLength="20.30" lengthAdjust="spacingAndGlyphs" stroke="#000" stroke-width="0.22">20-20</text>
<circle cx="207.00" cy="229.60" r="2.10" fill="#000"/>
<text x="215.80" y="232.60" font-size="8.4" font-weight="normal" text-anchor="start" fill="#000" textLength="20.30" lengthAdjust="spacingAndGlyphs" stroke="#000" stroke-width="0.22">22-20</text>
<polygon points="204.85,243.94 209.15,243.94 207.00,240.07" fill="#fff" stroke="#000" stroke-width="1.2"/>
<text x="215.80" y="245.22" font-size="8.4" font-weight="normal" text-anchor="start" fill="#000" textLength="20.30" lengthAdjust="spacingAndGlyphs" stroke="#000" stroke-width="0.22">20-22</text>
<line x1="415.00" y1="175.00" x2="415.00" y2="240.50" stroke="#555" stroke-width="1.0" />
<line x1="344.50" y1="184.50" x2="462.50" y2="184.50" stroke="#555" stroke-width="1.0" />
<text x="423.80" y="182.00" font-size="7.2" font-weight="normal" text-anchor="start" fill="#000" textLength="37.00" lengthAdjust="spacingAndGlyphs" stroke="#000" stroke-width="0.28">EC 50 (nM)</text>
<text x="351.00" y="192.20" font-size="7.2" font-weight="normal" text-anchor="start" fill="#000" textLength="28.80" lengthAdjust="spacingAndGlyphs" stroke="#000" stroke-width="0.28">rituximab</text>
<text x="417.30" y="192.20" font-size="7.2" font-weight="normal" text-anchor="start" fill="#000" stroke="#000" stroke-width="0.28">nd</text>
<text x="351.00" y="199.80" font-size="7.2" font-weight="normal" text-anchor="start" fill="#000" textLength="36.00" lengthAdjust="spacingAndGlyphs" stroke="#000" stroke-width="0.28">veltuzumab</text>
<text x="417.30" y="199.80" font-size="7.2" font-weight="normal" text-anchor="start" fill="#000" stroke="#000" stroke-width="0.28">nd</text>
<text x="351.00" y="207.40" font-size="7.2" font-weight="normal" text-anchor="start" fill="#000" textLength="53.40" lengthAdjust="spacingAndGlyphs" stroke="#000" stroke-width="0.28">rituximab + GAH</text>
<text x="417.30" y="207.40" font-size="7.2" font-weight="normal" text-anchor="start" fill="#000" stroke="#000" stroke-width="0.28">1.5</text>
<text x="351.00" y="215.00" font-size="7.2" font-weight="normal" text-anchor="start" fill="#000" textLength="60.40" lengthAdjust="spacingAndGlyphs" stroke="#000" stroke-width="0.28">veltuzumab + GAH</text>
<text x="419.30" y="215.00" font-size="7.2" font-weight="normal" text-anchor="start" fill="#000" stroke="#000" stroke-width="0.28">1</text>
<text x="351.00" y="222.60" font-size="7.2" font-weight="normal" text-anchor="start" fill="#000" textLength="18.40" lengthAdjust="spacingAndGlyphs" stroke="#000" stroke-width="0.28">20-20</text>
<text x="417.30" y="222.60" font-size="7.2" font-weight="normal" text-anchor="start" fill="#000" stroke="#000" stroke-width="0.28">8</text>
<text x="351.00" y="230.20" font-size="7.2" font-weight="normal" text-anchor="start" fill="#000" textLength="18.40" lengthAdjust="spacingAndGlyphs" stroke="#000" stroke-width="0.28">22-20</text>
<text x="417.30" y="230.20" font-size="7.2" font-weight="normal" text-anchor="start" fill="#000" stroke="#000" stroke-width="0.28">6</text>
<text x="351.00" y="237.80" font-size="7.2" font-weight="normal" text-anchor="start" fill="#000" textLength="18.40" lengthAdjust="spacingAndGlyphs" stroke="#000" stroke-width="0.28">20-22</text>
<text x="417.30" y="237.80" font-size="7.2" font-weight="normal" text-anchor="start" fill="#000" stroke="#000" stroke-width="0.28">8</text>
<line x1="40.90" y1="317.60" x2="40.90" y2="450.80" stroke="#000" stroke-width="1.7" />
<line x1="40.10" y1="450.00" x2="173.50" y2="450.00" stroke="#000" stroke-width="1.7" />
<line x1="37.60" y1="318.00" x2="40.90" y2="318.00" stroke="#000" stroke-width="1.4" />
<text x="36.80" y="321.00" font-size="8.6" font-weight="bold" text-anchor="end" fill="#000" textLength="9.20" lengthAdjust="spacingAndGlyphs" stroke="#000" stroke-width="0.2">100</text>
<line x1="37.60" y1="362.00" x2="40.90" y2="362.00" stroke="#000" stroke-width="1.4" />
<text x="36.80" y="365.00" font-size="8.6" font-weight="bold" text-anchor="end" fill="#000" textLength="6.40" lengthAdjust="spacingAndGlyphs" stroke="#000" stroke-width="0.2">75</text>
<line x1="37.60" y1="406.00" x2="40.90" y2="406.00" stroke="#000" stroke-width="1.4" />
<text x="36.80" y="409.00" font-size="8.6" font-weight="bold" text-anchor="end" fill="#000" textLength="6.40" lengthAdjust="spacingAndGlyphs" stroke="#000" stroke-width="0.2">50</text>
<line x1="37.60" y1="450.00" x2="40.90" y2="450.00" stroke="#000" stroke-width="1.4" />
<text x="36.80" y="453.00" font-size="8.6" font-weight="bold" text-anchor="end" fill="#000" textLength="6.40" lengthAdjust="spacingAndGlyphs" stroke="#000" stroke-width="0.2">25</text>
<line x1="73.60" y1="450.00" x2="73.60" y2="453.80" stroke="#000" stroke-width="1.4" />
<line x1="139.70" y1="450.00" x2="139.70" y2="453.80" stroke="#000" stroke-width="1.4" />
<text x="73.80" y="463.20" font-size="9.3" font-weight="bold" text-anchor="middle" fill="#000" textLength="8.60" lengthAdjust="spacingAndGlyphs" stroke="#000" stroke-width="0.2">RL</text>
<text x="139.60" y="463.20" font-size="9.3" font-weight="bold" text-anchor="middle" fill="#000" textLength="22.00" lengthAdjust="spacingAndGlyphs" stroke="#000" stroke-width="0.2">DoHH2</text>
<text x="21.90" y="383.60" font-size="8.0" font-weight="bold" text-anchor="middle" fill="#000" textLength="92.80" lengthAdjust="spacingAndGlyphs" transform="rotate(-90 21.90 383.60)" >Percent untreated</text>
<line x1="48.20" y1="320.40" x2="48.20" y2="328.80" stroke="#000" stroke-width="1.1" />
<line x1="46.20" y1="320.40" x2="50.20" y2="320.40" stroke="#000" stroke-width="1.4" />
<rect x="45.00" y="328.80" width="6.40" height="121.20" fill="url(#pt1)" stroke="#000" stroke-width="1.25"/>
<line x1="56.73" y1="355.80" x2="56.73" y2="357.80" stroke="#000" stroke-width="1.1" />
<line x1="54.73" y1="355.80" x2="58.73" y2="355.80" stroke="#000" stroke-width="1.4" />
<rect x="53.53" y="357.80" width="6.40" height="92.20" fill="url(#pt2)" stroke="#000" stroke-width="1.25"/>
<line x1="65.26" y1="338.60" x2="65.26" y2="341.10" stroke="#000" stroke-width="1.1" />
<line x1="63.26" y1="338.60" x2="67.26" y2="338.60" stroke="#000" stroke-width="1.4" />
<rect x="62.06" y="341.10" width="6.40" height="108.90" fill="url(#pt3)" stroke="#000" stroke-width="1.25"/>
<line x1="73.79" y1="357.30" x2="73.79" y2="360.30" stroke="#000" stroke-width="1.1" />
<line x1="71.79" y1="357.30" x2="75.79" y2="357.30" stroke="#000" stroke-width="1.4" />
<rect x="70.59" y="360.30" width="6.40" height="89.70" fill="url(#pt4)" stroke="#000" stroke-width="1.25"/>
<line x1="82.32" y1="350.60" x2="82.32" y2="353.60" stroke="#000" stroke-width="1.1" />
<line x1="80.32" y1="350.60" x2="84.32" y2="350.60" stroke="#000" stroke-width="1.4" />
<rect x="79.12" y="353.60" width="6.40" height="96.40" fill="url(#pt5)" stroke="#000" stroke-width="1.25"/>
<line x1="90.85" y1="361.70" x2="90.85" y2="369.00" stroke="#000" stroke-width="1.1" />
<line x1="88.85" y1="361.70" x2="92.85" y2="361.70" stroke="#000" stroke-width="1.4" />
<rect x="87.65" y="369.00" width="6.40" height="81.00" fill="url(#pt6)" stroke="#000" stroke-width="1.25"/>
<line x1="99.38" y1="377.30" x2="99.38" y2="384.40" stroke="#000" stroke-width="1.1" />
<line x1="97.38" y1="377.30" x2="101.38" y2="377.30" stroke="#000" stroke-width="1.4" />
<rect x="96.18" y="384.40" width="6.40" height="65.60" fill="#fff" stroke="#000" stroke-width="1.25"/>
<line x1="114.30" y1="356.40" x2="114.30" y2="358.50" stroke="#000" stroke-width="1.1" />
<line x1="112.30" y1="356.40" x2="116.30" y2="356.40" stroke="#000" stroke-width="1.4" />
<rect x="111.10" y="358.50" width="6.40" height="91.50" fill="url(#pt8)" stroke="#000" stroke-width="1.25"/>
<line x1="122.75" y1="380.60" x2="122.75" y2="385.00" stroke="#000" stroke-width="1.1" />
<line x1="120.75" y1="380.60" x2="124.75" y2="380.60" stroke="#000" stroke-width="1.4" />
<rect x="119.55" y="385.00" width="6.40" height="65.00" fill="url(#pt9)" stroke="#000" stroke-width="1.25"/>
<line x1="131.20" y1="337.00" x2="131.20" y2="341.00" stroke="#000" stroke-width="1.1" />
<line x1="129.20" y1="337.00" x2="133.20" y2="337.00" stroke="#000" stroke-width="1.4" />
<rect x="128.00" y="341.00" width="6.40" height="109.00" fill="url(#pt10)" stroke="#000" stroke-width="1.25"/>
<line x1="139.65" y1="381.50" x2="139.65" y2="385.00" stroke="#000" stroke-width="1.1" />
<line x1="137.65" y1="381.50" x2="141.65" y2="381.50" stroke="#000" stroke-width="1.4" />
<rect x="136.45" y="385.00" width="6.40" height="65.00" fill="url(#pt11)" stroke="#000" stroke-width="1.25"/>
<line x1="148.10" y1="394.20" x2="148.10" y2="395.30" stroke="#000" stroke-width="1.1" />
<line x1="146.10" y1="394.20" x2="150.10" y2="394.20" stroke="#000" stroke-width="1.4" />
<rect x="144.90" y="395.30" width="6.40" height="54.70" fill="url(#pt12)" stroke="#000" stroke-width="1.25"/>
<line x1="156.55" y1="394.00" x2="156.55" y2="412.30" stroke="#000" stroke-width="1.1" />
<line x1="154.55" y1="394.00" x2="158.55" y2="394.00" stroke="#000" stroke-width="1.4" />
<rect x="153.35" y="412.30" width="6.40" height="37.70" fill="url(#pt13)" stroke="#000" stroke-width="1.25"/>
<line x1="165.00" y1="370.50" x2="165.00" y2="374.30" stroke="#000" stroke-width="1.1" />
<line x1="163.00" y1="370.50" x2="167.00" y2="370.50" stroke="#000" stroke-width="1.4" />
<rect x="161.80" y="374.30" width="6.40" height="75.70" fill="#fff" stroke="#000" stroke-width="1.25"/>
<rect x="182.88" y="323.27" width="12.25" height="6.65" fill="url(#pt15)" stroke="#000" stroke-width="1.75"/>
<text x="196.90" y="330.70" font-size="10.0" font-weight="normal" text-anchor="start" fill="#000" textLength="28.80" lengthAdjust="spacingAndGlyphs" stroke="#000" stroke-width="0.28">rituximab</text>
<rect x="182.88" y="338.38" width="12.25" height="6.65" fill="url(#pt16)" stroke="#000" stroke-width="1.75"/>
<text x="196.90" y="345.80" font-size="10.0" font-weight="normal" text-anchor="start" fill="#000" textLength="52.50" lengthAdjust="spacingAndGlyphs" stroke="#000" stroke-width="0.28">rituximab + GAH</text>
<rect x="182.88" y="353.47" width="12.25" height="6.65" fill="url(#pt17)" stroke="#000" stroke-width="1.75"/>
<text x="196.90" y="360.90" font-size="10.0" font-weight="normal" text-anchor="start" fill="#000" textLength="35.50" lengthAdjust="spacingAndGlyphs" stroke="#000" stroke-width="0.28">veltuzumab</text>
<rect x="182.88" y="368.57" width="12.25" height="6.65" fill="url(#pt18)" stroke="#000" stroke-width="1.75"/>
<text x="196.90" y="376.00" font-size="10.0" font-weight="normal" text-anchor="start" fill="#000" textLength="59.40" lengthAdjust="spacingAndGlyphs" stroke="#000" stroke-width="0.28">veltuzumab + GAH</text>
<rect x="182.88" y="383.67" width="12.25" height="6.65" fill="url(#pt19)" stroke="#000" stroke-width="1.75"/>
<text x="196.90" y="391.10" font-size="10.0" font-weight="normal" text-anchor="start" fill="#000" textLength="18.20" lengthAdjust="spacingAndGlyphs" stroke="#000" stroke-width="0.28">20-20</text>
<rect x="182.88" y="398.77" width="12.25" height="6.65" fill="url(#pt20)" stroke="#000" stroke-width="1.75"/>
<text x="196.90" y="406.20" font-size="10.0" font-weight="normal" text-anchor="start" fill="#000" textLength="18.20" lengthAdjust="spacingAndGlyphs" stroke="#000" stroke-width="0.28">22-20</text>
<rect x="182.88" y="413.87" width="12.25" height="6.65" fill="#fff" stroke="#000" stroke-width="1.75"/>
<text x="196.90" y="421.30" font-size="10.0" font-weight="normal" text-anchor="start" fill="#000" textLength="18.20" lengthAdjust="spacingAndGlyphs" stroke="#000" stroke-width="0.28">20-22</text>
<line x1="328.30" y1="330.00" x2="328.30" y2="443.00" stroke="#000" stroke-width="1.9" />
<line x1="327.30" y1="442.00" x2="518.50" y2="442.00" stroke="#000" stroke-width="2.2" />
<line x1="323.80" y1="442.00" x2="328.30" y2="442.00" stroke="#000" stroke-width="1.6" />
<text x="323.20" y="444.70" font-size="7.6" font-weight="bold" text-anchor="end" fill="#111" textLength="4.10" lengthAdjust="spacingAndGlyphs" >0</text>
<line x1="323.80" y1="426.14" x2="328.30" y2="426.14" stroke="#000" stroke-width="1.6" />
<text x="323.20" y="428.84" font-size="7.6" font-weight="bold" text-anchor="end" fill="#111" textLength="4.10" lengthAdjust="spacingAndGlyphs" >5</text>
<line x1="323.80" y1="410.29" x2="328.30" y2="410.29" stroke="#000" stroke-width="1.6" />
<text x="323.20" y="412.99" font-size="7.6" font-weight="bold" text-anchor="end" fill="#111" textLength="9.00" lengthAdjust="spacingAndGlyphs" >10</text>
<line x1="323.80" y1="394.44" x2="328.30" y2="394.44" stroke="#000" stroke-width="1.6" />
<text x="323.20" y="397.13" font-size="7.6" font-weight="bold" text-anchor="end" fill="#111" textLength="9.00" lengthAdjust="spacingAndGlyphs" >15</text>
<line x1="323.80" y1="378.58" x2="328.30" y2="378.58" stroke="#000" stroke-width="1.6" />
<text x="323.20" y="381.28" font-size="7.6" font-weight="bold" text-anchor="end" fill="#111" textLength="9.00" lengthAdjust="spacingAndGlyphs" >20</text>
<line x1="323.80" y1="362.73" x2="328.30" y2="362.73" stroke="#000" stroke-width="1.6" />
<text x="323.20" y="365.43" font-size="7.6" font-weight="bold" text-anchor="end" fill="#111" textLength="9.00" lengthAdjust="spacingAndGlyphs" >25</text>
<line x1="323.80" y1="346.87" x2="328.30" y2="346.87" stroke="#000" stroke-width="1.6" />
<text x="323.20" y="349.57" font-size="7.6" font-weight="bold" text-anchor="end" fill="#111" textLength="9.00" lengthAdjust="spacingAndGlyphs" >30</text>
<line x1="323.80" y1="331.01" x2="328.30" y2="331.01" stroke="#000" stroke-width="1.6" />
<text x="323.20" y="333.71" font-size="7.6" font-weight="bold" text-anchor="end" fill="#111" textLength="9.00" lengthAdjust="spacingAndGlyphs" >35</text>
<text x="307.40" y="386.40" font-size="9.0" font-weight="bold" text-anchor="middle" fill="#000" textLength="115.00" lengthAdjust="spacingAndGlyphs" transform="rotate(-90 307.40 386.40)" >Annexin V positive cell (%)</text>
<line x1="335.90" y1="403.80" x2="335.90" y2="407.50" stroke="#000" stroke-width="1.1" />
<line x1="333.30" y1="403.80" x2="338.50" y2="403.80" stroke="#000" stroke-width="1.4" />
<rect x="331.00" y="407.50" width="9.80" height="34.50" fill="url(#pDot)" stroke="#000" stroke-width="1.5"/>
<line x1="350.22" y1="402.50" x2="350.22" y2="406.60" stroke="#000" stroke-width="1.1" />
<line x1="347.62" y1="402.50" x2="352.82" y2="402.50" stroke="#000" stroke-width="1.4" />
<rect x="345.32" y="406.60" width="9.80" height="35.40" fill="url(#pDot)" stroke="#000" stroke-width="1.5"/>
<line x1="364.54" y1="398.70" x2="364.54" y2="401.70" stroke="#000" stroke-width="1.1" />
<line x1="361.94" y1="398.70" x2="367.14" y2="398.70" stroke="#000" stroke-width="1.4" />
<rect x="359.64" y="401.70" width="9.80" height="40.30" fill="url(#pDot)" stroke="#000" stroke-width="1.5"/>
<line x1="378.86" y1="401.60" x2="378.86" y2="402.60" stroke="#000" stroke-width="1.1" />
<line x1="376.26" y1="401.60" x2="381.46" y2="401.60" stroke="#000" stroke-width="1.4" />
<rect x="373.96" y="402.60" width="9.80" height="39.40" fill="url(#pDot)" stroke="#000" stroke-width="1.5"/>
<line x1="393.18" y1="375.00" x2="393.18" y2="375.80" stroke="#000" stroke-width="1.1" />
<line x1="390.58" y1="375.00" x2="395.78" y2="375.00" stroke="#000" stroke-width="1.4" />
<rect x="388.28" y="375.80" width="9.80" height="66.20" fill="url(#pDot)" stroke="#000" stroke-width="1.5"/>
<line x1="407.50" y1="370.80" x2="407.50" y2="373.40" stroke="#000" stroke-width="1.1" />
<line x1="404.90" y1="370.80" x2="410.10" y2="370.80" stroke="#000" stroke-width="1.4" />
<rect x="402.60" y="373.40" width="9.80" height="68.60" fill="url(#pDot)" stroke="#000" stroke-width="1.5"/>
<line x1="421.82" y1="349.50" x2="421.82" y2="356.10" stroke="#000" stroke-width="1.1" />
<line x1="419.22" y1="349.50" x2="424.42" y2="349.50" stroke="#000" stroke-width="1.4" />
<rect x="416.92" y="356.10" width="9.80" height="85.90" fill="url(#pDot)" stroke="#000" stroke-width="1.5"/>
<line x1="436.60" y1="403.00" x2="436.60" y2="405.30" stroke="#000" stroke-width="1.1" />
<line x1="434.00" y1="403.00" x2="439.20" y2="403.00" stroke="#000" stroke-width="1.4" />
<rect x="431.70" y="405.30" width="9.80" height="36.70" fill="url(#pDot)" stroke="#000" stroke-width="1.5"/>
<line x1="451.10" y1="392.30" x2="451.10" y2="394.40" stroke="#000" stroke-width="1.1" />
<line x1="448.50" y1="392.30" x2="453.70" y2="392.30" stroke="#000" stroke-width="1.4" />
<rect x="446.20" y="394.40" width="9.80" height="47.60" fill="url(#pDot)" stroke="#000" stroke-width="1.5"/>
<line x1="465.60" y1="388.80" x2="465.60" y2="390.80" stroke="#000" stroke-width="1.1" />
<line x1="463.00" y1="388.80" x2="468.20" y2="388.80" stroke="#000" stroke-width="1.4" />
<rect x="460.70" y="390.80" width="9.80" height="51.20" fill="url(#pDot)" stroke="#000" stroke-width="1.5"/>
<line x1="480.10" y1="361.50" x2="480.10" y2="363.50" stroke="#000" stroke-width="1.1" />
<line x1="477.50" y1="361.50" x2="482.70" y2="361.50" stroke="#000" stroke-width="1.4" />
<rect x="475.20" y="363.50" width="9.80" height="78.50" fill="url(#pDot)" stroke="#000" stroke-width="1.5"/>
<line x1="494.60" y1="353.00" x2="494.60" y2="358.10" stroke="#000" stroke-width="1.1" />
<line x1="492.00" y1="353.00" x2="497.20" y2="353.00" stroke="#000" stroke-width="1.4" />
<rect x="489.70" y="358.10" width="9.80" height="83.90" fill="url(#pDot)" stroke="#000" stroke-width="1.5"/>
<line x1="509.10" y1="339.50" x2="509.10" y2="341.40" stroke="#000" stroke-width="1.1" />
<line x1="506.50" y1="339.50" x2="511.70" y2="339.50" stroke="#000" stroke-width="1.4" />
<rect x="504.20" y="341.40" width="9.80" height="100.60" fill="url(#pDot)" stroke="#000" stroke-width="1.5"/>
<line x1="343.50" y1="335.30" x2="424.40" y2="335.30" stroke="#777" stroke-width="0.9" />
<line x1="438.40" y1="335.30" x2="511.00" y2="335.30" stroke="#777" stroke-width="0.9" />
<text x="365.10" y="332.50" font-size="7.4" font-weight="normal" text-anchor="start" fill="#000" textLength="20.70" lengthAdjust="spacingAndGlyphs" stroke="#000" stroke-width="0.28">10 nM</text>
<text x="464.00" y="332.00" font-size="7.4" font-weight="normal" text-anchor="start" fill="#000" textLength="24.90" lengthAdjust="spacingAndGlyphs" stroke="#000" stroke-width="0.28">100 nM</text>
<text x="262.00" y="453.80" font-size="9.5" font-weight="normal" text-anchor="start" fill="#000" textLength="40.40" lengthAdjust="spacingAndGlyphs" stroke="#000" stroke-width="0.22">untreated</text>
<text x="262.00" y="465.43" font-size="9.5" font-weight="normal" text-anchor="start" fill="#000" textLength="55.20" lengthAdjust="spacingAndGlyphs" stroke="#000" stroke-width="0.22">epratuzumab</text>
<text x="262.00" y="477.06" font-size="9.5" font-weight="normal" text-anchor="start" fill="#000" textLength="48.60" lengthAdjust="spacingAndGlyphs" stroke="#000" stroke-width="0.22">veltuzumab</text>
<text x="262.00" y="488.69" font-size="9.5" font-weight="normal" text-anchor="start" fill="#000" textLength="38.90" lengthAdjust="spacingAndGlyphs" stroke="#000" stroke-width="0.22">rituximab</text>
<text x="267.80" y="500.32" font-size="9.5" font-weight="normal" text-anchor="start" fill="#000" textLength="24.20" lengthAdjust="spacingAndGlyphs" stroke="#000" stroke-width="0.22">20-20</text>
<text x="267.80" y="511.95" font-size="9.5" font-weight="normal" text-anchor="start" fill="#000" textLength="24.20" lengthAdjust="spacingAndGlyphs" stroke="#000" stroke-width="0.22">22-20</text>
<text x="267.80" y="523.58" font-size="9.5" font-weight="normal" text-anchor="start" fill="#000" textLength="24.20" lengthAdjust="spacingAndGlyphs" stroke="#000" stroke-width="0.22">20-22</text>
<line x1="332.90" y1="450.30" x2="337.90" y2="450.30" stroke="#000" stroke-width="1.1" />
<line x1="335.40" y1="447.90" x2="335.40" y2="452.70" stroke="#000" stroke-width="1.1" />
<line x1="348.40" y1="461.90" x2="353.40" y2="461.90" stroke="#000" stroke-width="1.1" />
<line x1="350.90" y1="459.50" x2="350.90" y2="464.30" stroke="#000" stroke-width="1.1" />
<line x1="363.00" y1="473.60" x2="368.00" y2="473.60" stroke="#000" stroke-width="1.1" />
<line x1="365.50" y1="471.20" x2="365.50" y2="476.00" stroke="#000" stroke-width="1.1" />
<line x1="376.50" y1="485.20" x2="381.50" y2="485.20" stroke="#000" stroke-width="1.1" />
<line x1="379.00" y1="482.80" x2="379.00" y2="487.60" stroke="#000" stroke-width="1.1" />
<line x1="392.30" y1="496.80" x2="397.30" y2="496.80" stroke="#000" stroke-width="1.1" />
<line x1="394.80" y1="494.40" x2="394.80" y2="499.20" stroke="#000" stroke-width="1.1" />
<line x1="405.80" y1="508.50" x2="410.80" y2="508.50" stroke="#000" stroke-width="1.1" />
<line x1="408.30" y1="506.10" x2="408.30" y2="510.90" stroke="#000" stroke-width="1.1" />
<line x1="421.90" y1="520.10" x2="426.90" y2="520.10" stroke="#000" stroke-width="1.1" />
<line x1="424.40" y1="517.70" x2="424.40" y2="522.50" stroke="#000" stroke-width="1.1" />
<line x1="434.80" y1="461.90" x2="439.80" y2="461.90" stroke="#000" stroke-width="1.1" />
<line x1="437.30" y1="459.50" x2="437.30" y2="464.30" stroke="#000" stroke-width="1.1" />
<line x1="449.40" y1="473.60" x2="454.40" y2="473.60" stroke="#000" stroke-width="1.1" />
<line x1="451.90" y1="471.20" x2="451.90" y2="476.00" stroke="#000" stroke-width="1.1" />
<line x1="462.90" y1="485.20" x2="467.90" y2="485.20" stroke="#000" stroke-width="1.1" />
<line x1="465.40" y1="482.80" x2="465.40" y2="487.60" stroke="#000" stroke-width="1.1" />
<line x1="478.50" y1="496.80" x2="483.50" y2="496.80" stroke="#000" stroke-width="1.1" />
<line x1="481.00" y1="494.40" x2="481.00" y2="499.20" stroke="#000" stroke-width="1.1" />
<line x1="491.90" y1="508.50" x2="496.90" y2="508.50" stroke="#000" stroke-width="1.1" />
<line x1="494.40" y1="506.10" x2="494.40" y2="510.90" stroke="#000" stroke-width="1.1" />
<line x1="508.60" y1="520.10" x2="513.60" y2="520.10" stroke="#000" stroke-width="1.1" />
<line x1="511.10" y1="517.70" x2="511.10" y2="522.50" stroke="#000" stroke-width="1.1" />
</svg></body></html>
